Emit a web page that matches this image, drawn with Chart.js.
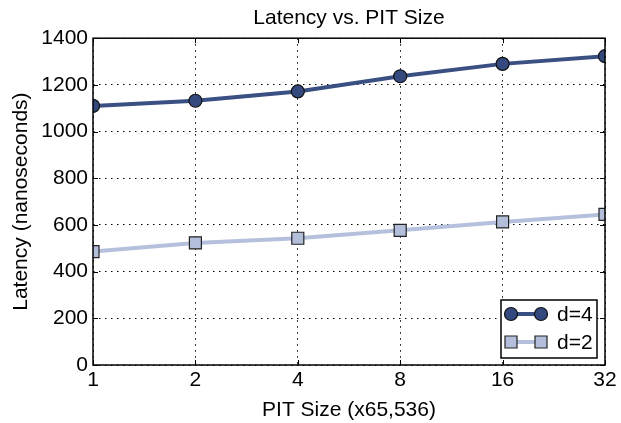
<!DOCTYPE html>
<html>
<head>
<meta charset="utf-8">
<script src="https://cdn.jsdelivr.net/npm/chart.js@4/dist/chart.umd.min.js"></script>
<style>
  html, body { margin: 0; padding: 0; background: #fff; }
  #wrap { width: 621px; height: 423px; position: relative; }
</style>
</head>
<body>
<div id="wrap"><canvas id="c" width="621" height="423"></canvas></div>
<script>
const categories = ['1', '2', '4', '8', '16', '32'];
const seriesNames = ['d=4', 'd=2'];
const latencyD4 = [1110, 1132, 1172, 1237, 1290, 1323];
const latencyD2 = [486, 523, 543, 577, 613, 645];
const yTicks = [0, 200, 400, 600, 800, 1000, 1200, 1400];

const FONT = "'Liberation Sans', Arial, Helvetica, sans-serif";
const FS = 21;
const colD4 = '#3a5083';
const colD4Pt = '#344a7e';
const colD2 = '#b5c1dc';
const colD2Pt = '#b3bfda';

const framePlugin = {
  id: 'frame',
  afterDatasetsDraw(chart) {
    const { ctx, chartArea: a, scales } = chart;
    ctx.save();
    ctx.strokeStyle = '#000';
    ctx.lineWidth = 1;
    const L = 5;
    ctx.beginPath();
    scales.y.ticks.forEach((t, i) => {
      const y = Math.round(scales.y.getPixelForTick(i)) + 0.5;
      ctx.moveTo(a.left, y); ctx.lineTo(a.left + L, y);
      ctx.moveTo(a.right, y); ctx.lineTo(a.right - L, y);
    });
    scales.x.ticks.forEach((t, i) => {
      const x = Math.round(scales.x.getPixelForTick(i)) + 0.5;
      ctx.moveTo(x, a.bottom); ctx.lineTo(x, a.bottom - L);
      ctx.moveTo(x, a.top); ctx.lineTo(x, a.top + L);
    });
    ctx.stroke();
    ctx.lineWidth = 1.5;
    ctx.strokeRect(a.left, a.top, a.right - a.left, a.bottom - a.top);
    ctx.restore();
  },
  afterDraw(chart) {
    const { ctx, chartArea: a } = chart;
    const w = 96, h = 58;
    const x0 = a.right - 8 - w, y0 = a.bottom - 7 - h;
    ctx.save();
    ctx.fillStyle = '#fff';
    ctx.fillRect(x0, y0, w, h);
    ctx.strokeStyle = '#000';
    ctx.lineWidth = 1.5;
    ctx.strokeRect(x0, y0, w, h);
    chart.data.datasets.forEach((ds, i) => {
      const cy = y0 + 14 + i * 28;
      const xa = x0 + 10, xb = x0 + 40;
      ctx.strokeStyle = ds.borderColor;
      ctx.lineWidth = ds.borderWidth;
      ctx.beginPath(); ctx.moveTo(xa, cy); ctx.lineTo(xb, cy); ctx.stroke();
      ctx.fillStyle = ds.pointBackgroundColor;
      ctx.strokeStyle = ds.pointBorderColor;
      ctx.lineWidth = ds.pointBorderWidth;
      [xa, xb].forEach(px => {
        ctx.beginPath();
        if (ds.pointStyle === 'rect') {
          const s = Math.SQRT1_2 * ds.pointRadius;
          ctx.rect(px - s, cy - s, 2 * s, 2 * s);
        } else {
          ctx.arc(px, cy, ds.pointRadius, 0, Math.PI * 2);
        }
        ctx.fill(); ctx.stroke();
      });
      ctx.fillStyle = '#000';
      ctx.font = FS + 'px ' + FONT;
      ctx.textBaseline = 'middle';
      ctx.textAlign = 'left';
      ctx.fillText(ds.label, x0 + 56, cy + 1);
    });
    ctx.restore();
  }
};

new Chart(document.getElementById('c'), {
  type: 'line',
  data: {
    labels: categories,
    datasets: [
      {
        label: seriesNames[0],
        data: latencyD4,
        borderColor: colD4,
        borderWidth: 4,
        pointStyle: 'circle',
        pointRadius: 6.5,
        pointBackgroundColor: colD4Pt,
        pointBorderColor: '#111',
        pointBorderWidth: 1.2,
        tension: 0,
        clip: 0
      },
      {
        label: seriesNames[1],
        data: latencyD2,
        borderColor: colD2,
        borderWidth: 4,
        pointStyle: 'rect',
        pointRadius: 8.5,
        pointBackgroundColor: colD2Pt,
        pointBorderColor: '#222',
        pointBorderWidth: 1.2,
        tension: 0,
        clip: 0
      }
    ]
  },
  options: {
    responsive: false,
    animation: false,
    devicePixelRatio: 1,
    layout: { padding: { top: 0, right: 16, bottom: 0, left: 0 } },
    plugins: {
      legend: { display: false },
      tooltip: { enabled: false },
      title: {
        display: true,
        fullSize: false,
        text: 'Latency vs. PIT Size',
        color: '#000',
        font: { family: FONT, size: FS, weight: 'normal' },
        padding: { top: 6, bottom: 7 }
      }
    },
    scales: {
      x: {
        type: 'category',
        offset: false,
        grid: { color: '#000', lineWidth: 1, drawTicks: false },
        border: { display: false, dash: [1.5, 4.5] },
        ticks: { color: '#000', font: { family: FONT, size: FS }, padding: 3, maxRotation: 0 },
        title: { display: true, text: 'PIT Size (x65,536)', color: '#000', font: { family: FONT, size: FS }, padding: { top: 1, bottom: 0 } },
        afterFit(s) { s.height = 58; }
      },
      y: {
        min: 0, max: 1400,
        afterBuildTicks(s) { s.ticks = yTicks.map(v => ({ value: v })); },
        grid: { color: '#000', lineWidth: 1, drawTicks: false },
        border: { display: false, dash: [1.5, 4.5] },
        ticks: { color: '#000', font: { family: FONT, size: FS }, padding: 5, callback: v => String(v) },
        title: { display: true, text: 'Latency (nanoseconds)', color: '#000', font: { family: FONT, size: FS }, padding: { top: 9, bottom: 4 } },
        afterFit(s) { s.width = 93; }
      }
    }
  },
  plugins: [framePlugin]
});
</script>
</body>
</html>
